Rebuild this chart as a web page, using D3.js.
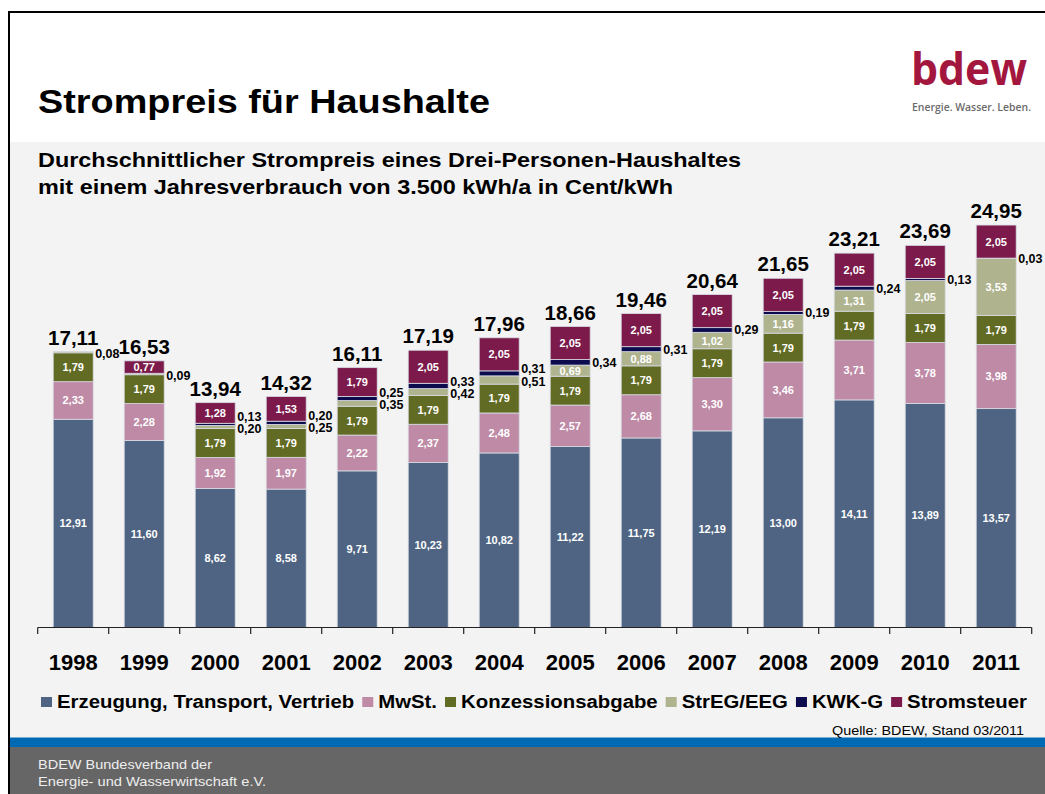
<!DOCTYPE html>
<html>
<head>
<meta charset="utf-8">
<script src="https://cdn.jsdelivr.net/npm/d3@7"></script>
<style>
  html, body { margin: 0; padding: 0; background: #ffffff; }
  svg { display: block; font-family: "Liberation Sans", Arial, sans-serif; }
</style>
</head>
<body>
<svg id="chart" width="1045" height="794"></svg>
<script>
// ---------- DATA ----------
const years = ["1998","1999","2000","2001","2002","2003","2004","2005","2006","2007","2008","2009","2010","2011"];
const erzeugung   = [12.91, 11.60, 8.62, 8.58, 9.71, 10.23, 10.82, 11.22, 11.75, 12.19, 13.00, 14.11, 13.89, 13.57];
const mwst        = [2.33, 2.28, 1.92, 1.97, 2.22, 2.37, 2.48, 2.57, 2.68, 3.30, 3.46, 3.71, 3.78, 3.98];
const konzession  = [1.79, 1.79, 1.79, 1.79, 1.79, 1.79, 1.79, 1.79, 1.79, 1.79, 1.79, 1.79, 1.79, 1.79];
const eeg         = [0.08, 0.09, 0.20, 0.25, 0.35, 0.42, 0.51, 0.69, 0.88, 1.02, 1.16, 1.31, 2.05, 3.53];
const kwk         = [0, 0, 0.13, 0.20, 0.25, 0.33, 0.31, 0.34, 0.31, 0.29, 0.19, 0.24, 0.13, 0.03];
const stromsteuer = [0, 0.77, 1.28, 1.53, 1.79, 2.05, 2.05, 2.05, 2.05, 2.05, 2.05, 2.05, 2.05, 2.05];
const totals      = [17.11, 16.53, 13.94, 14.32, 16.11, 17.19, 17.96, 18.66, 19.46, 20.64, 21.65, 23.21, 23.69, 24.95];

const seriesKeys   = ["erz", "mwst", "konz", "eeg", "kwk", "steuer"];
const seriesNames  = ["Erzeugung, Transport, Vertrieb", "MwSt.", "Konzessionsabgabe", "StrEG/EEG", "KWK-G", "Stromsteuer"];
const seriesColors = ["#4e6482", "#bf8aa6", "#626b23", "#afb48f", "#0b0b4e", "#7c1b4b"];
const seriesValues = [erzeugung, mwst, konzession, eeg, kwk, stromsteuer];

const titleText = "Strompreis für Haushalte";
const subtitleLines = ["Durchschnittlicher Strompreis eines Drei-Personen-Haushaltes",
                       "mit einem Jahresverbrauch von 3.500 kWh/a in Cent/kWh"];
const sourceText = "Quelle: BDEW, Stand 03/2011";
const footerLines = ["BDEW Bundesverband der", "Energie- und Wasserwirtschaft e.V."];
const logoText = "bdew";
const logoTagline = "Energie. Wasser. Leben.";

// ---------- SETUP ----------
const W = 1045, H = 794;
const svg = d3.select("#chart");
const fmt = d3.formatLocale({decimal: ",", thousands: ".", grouping: [3], currency: ["", "€"]}).format(".2f");

// background frame
svg.append("rect").attr("x", 0).attr("y", 0).attr("width", W).attr("height", H).attr("fill", "#ffffff");
svg.append("rect").attr("x", 9).attr("y", 142).attr("width", W - 9).attr("height", 596).attr("fill", "#f3f3f3");
svg.append("rect").attr("x", 9).attr("y", 737.5).attr("width", W - 9).attr("height", 10).attr("fill", "#0069b3");
svg.append("rect").attr("x", 9).attr("y", 747).attr("width", W - 9).attr("height", H - 747).attr("fill", "#666666");
svg.append("line").attr("x1", 8).attr("x2", W).attr("y1", 12).attr("y2", 12).attr("stroke", "#000").attr("stroke-width", 2);
svg.append("line").attr("x1", 9).attr("x2", 9).attr("y1", 11).attr("y2", H).attr("stroke", "#000").attr("stroke-width", 2);

// title
svg.append("text").attr("x", 38).attr("y", 113).attr("font-size", 34).attr("font-weight", "bold")
  .attr("fill", "#000").attr("textLength", 452).attr("lengthAdjust", "spacingAndGlyphs").text(titleText);

// subtitle
svg.selectAll("text.sub").data(subtitleLines).enter().append("text").attr("class", "sub")
  .attr("x", 38).attr("y", (d, i) => 167 + i * 26.5)
  .attr("font-size", 20.5).attr("font-weight", "bold").attr("fill", "#000")
  .attr("textLength", (d, i) => i === 0 ? 703 : 635).attr("lengthAdjust", "spacingAndGlyphs")
  .text(d => d);

// logo
svg.append("text").attr("x", 911).attr("y", 85).attr("font-family", "'Open Sans', sans-serif")
  .attr("font-size", 45).attr("font-weight", 700).attr("fill", "#a3173f")
  .attr("textLength", 116).attr("lengthAdjust", "spacingAndGlyphs").text(logoText);
svg.append("text").attr("x", 912).attr("y", 111).attr("font-family", "'Open Sans', sans-serif")
  .attr("font-size", 10.5).attr("font-weight", 600).attr("fill", "#6b6b6b")
  .attr("textLength", 119).attr("lengthAdjust", "spacingAndGlyphs").text(logoTagline);

// ---------- SCALES ----------
const x = d3.scaleBand().domain(years).range([37.7, 1031.7]).paddingInner(0.437).paddingOuter(0.2185);
const y = d3.scaleLinear().domain([0, 25]).range([627.5, 627.5 - 25 * 16.13]);

const rows = years.map((yr, j) => {
  const r = {year: yr};
  seriesKeys.forEach((k, i) => r[k] = seriesValues[i][j]);
  return r;
});
const stacked = d3.stack().keys(seriesKeys)(rows);

// bars
const g = svg.append("g");
stacked.forEach((layer, i) => {
  g.selectAll(null).data(layer.filter(d => d[1] - d[0] > 0)).enter().append("rect")
    .attr("x", d => x(d.data.year))
    .attr("width", x.bandwidth())
    .attr("y", d => y(d[1]))
    .attr("height", d => y(d[0]) - y(d[1]))
    .attr("fill", seriesColors[i])
    .attr("stroke", "#d8dbe4").attr("stroke-width", 0.8);
});

// axis
const axisY = y(0);
const step = x.step();
const x0 = x.range()[0];
svg.append("line").attr("x1", x0).attr("x2", x.range()[1]).attr("y1", axisY).attr("y2", axisY)
  .attr("stroke", "#222").attr("stroke-width", 1.2);
svg.selectAll("line.tick").data(d3.range(years.length + 1)).enter().append("line").attr("class", "tick")
  .attr("x1", i => x0 + i * step).attr("x2", i => x0 + i * step)
  .attr("y1", axisY).attr("y2", axisY + 6.5).attr("stroke", "#222").attr("stroke-width", 1.2);
svg.selectAll("text.year").data(years).enter().append("text").attr("class", "year")
  .attr("x", d => x(d) + x.bandwidth() / 2).attr("y", 670)
  .attr("text-anchor", "middle").attr("font-size", 22).attr("font-weight", "bold").attr("fill", "#000")
  .text(d => d);

// value labels
const labels = svg.append("g");
const outX = d => x(d) + x.bandwidth() + 2;
years.forEach((yr, j) => {
  let eegOutY = null;
  stacked.forEach((layer, i) => {
    const d = layer[j];
    const v = d[1] - d[0];
    if (v <= 0) return;
    const key = seriesKeys[i];
    const mid = (y(d[0]) + y(d[1])) / 2;
    const value = seriesValues[i][j];
    const outside = key === "kwk" || (key === "eeg" && value < 0.6);
    if (!outside) {
      labels.append("text").attr("x", x(yr) + x.bandwidth() / 2).attr("y", mid).attr("dy", "0.36em")
        .attr("text-anchor", "middle").attr("font-size", 11).attr("font-weight", "bold")
        .attr("fill", "#ffffff").text(fmt(value));
    } else {
      let ly;
      if (key === "eeg") { ly = mid + 1.5; eegOutY = ly; }
      else { ly = eegOutY !== null ? eegOutY - 12.5 : mid; }
      labels.append("text").attr("x", outX(yr)).attr("y", ly).attr("dy", "0.36em")
        .attr("font-size", 12.5).attr("font-weight", "bold").attr("fill", "#000").text(fmt(value));
    }
  });
  labels.append("text").attr("x", x(yr) + x.bandwidth() / 2).attr("y", y(totals[j]) - 7)
    .attr("text-anchor", "middle").attr("font-size", 20.5).attr("font-weight", "bold").attr("fill", "#000")
    .text(fmt(totals[j]));
});

// legend
const leg = svg.append("g");
let lx = 41;
seriesNames.forEach((name, i) => {
  leg.append("rect").attr("x", lx).attr("y", 697).attr("width", 11).attr("height", 10).attr("fill", seriesColors[i]);
  const t = leg.append("text").attr("x", lx + 16).attr("y", 707.5).attr("font-size", 18).attr("font-weight", "bold")
    .attr("fill", "#000").text(name);
  const natural = t.node().getComputedTextLength();
  const wdt = natural * 1.13;
  t.attr("textLength", wdt).attr("lengthAdjust", "spacingAndGlyphs");
  lx = lx + 16 + wdt + 8;
});

// source
svg.append("text").attr("x", 1024).attr("y", 735).attr("text-anchor", "end").attr("font-size", 12.5)
  .attr("fill", "#000").attr("textLength", 192).attr("lengthAdjust", "spacingAndGlyphs").text(sourceText);

// footer
svg.selectAll("text.foot").data(footerLines).enter().append("text").attr("class", "foot")
  .attr("x", 38).attr("y", (d, i) => 769 + i * 16.5).attr("font-size", 13).attr("fill", "#eeeeee")
  .attr("textLength", (d, i) => i === 0 ? 174 : 228).attr("lengthAdjust", "spacingAndGlyphs")
  .text(d => d);
</script>
</body>
</html>
